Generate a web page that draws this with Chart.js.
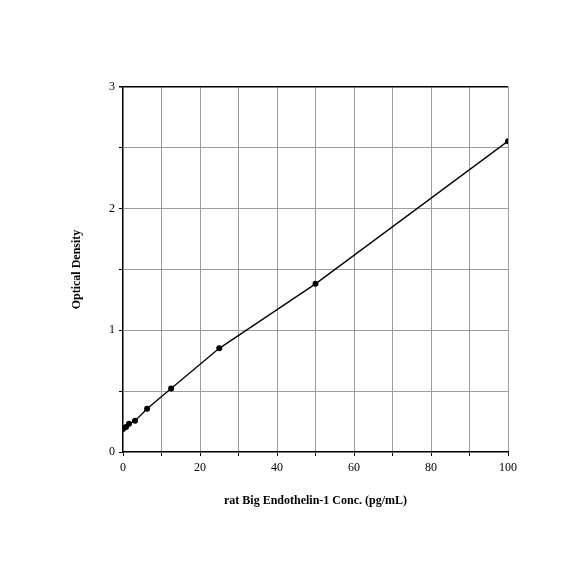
<!DOCTYPE html>
<html>
<head>
<meta charset="utf-8">
<script src="https://cdn.jsdelivr.net/npm/chart.js@4/dist/chart.umd.min.js"></script>
<style>
html,body{margin:0;padding:0;background:#fff;}
#wrap{width:584px;height:584px;}
</style>
</head>
<body>
<div id="wrap"><canvas id="c" width="584" height="584"></canvas></div>
<script>
const concentrations = [0, 0.78, 1.56, 3.125, 6.25, 12.5, 25, 50, 100];
const opticalDensity = [0.19, 0.205, 0.232, 0.256, 0.355, 0.522, 0.852, 1.382, 2.555];
const xTickLabels = [0, 20, 40, 60, 80, 100];
const yTickLabels = [0, 1, 2, 3];
const xTitle = 'rat Big Endothelin-1 Conc. (pg/mL)';
const yTitle = 'Optical Density';

const points = concentrations.map((x, i) => ({x: x, y: opticalDensity[i]}));
const gridGray = '#9c9c9c';
const serif = "'Liberation Serif', 'Times New Roman', serif";

new Chart(document.getElementById('c'), {
  type: 'scatter',
  data: {
    datasets: [{
      data: points,
      showLine: true,
      tension: 0,
      borderColor: '#000',
      borderWidth: 1.3,
      pointRadius: 3,
      pointBackgroundColor: '#000',
      pointBorderColor: '#000',
      pointBorderWidth: 0
    }]
  },
  options: {
    responsive: false,
    animation: false,
    layout: {padding: {left: 60, top: 87, right: 76, bottom: 72}},
    plugins: {legend: {display: false}, tooltip: {enabled: false}},
    scales: {
      x: {
        type: 'linear',
        min: 0, max: 100,
        afterFit: s => { s.height = 60; },
        border: {color: '#000', width: 1.2},
        grid: {
          color: ctx => gridGray,
          lineWidth: 1,
          tickColor: '#000',
          tickLength: 4,
          drawTicks: true
        },
        ticks: {
          stepSize: 10,
          color: '#000',
          padding: 5,
          maxRotation: 0,
          autoSkip: false,
          font: {family: serif, size: 12},
          callback: v => xTickLabels.includes(v) ? String(v) : ''
        },
        title: {
          display: true,
          text: xTitle,
          color: '#000',
          font: {family: serif, size: 12, weight: 'bold'},
          padding: {top: 0, bottom: 4}
        }
      },
      y: {
        type: 'linear',
        min: 0, max: 3,
        afterFit: s => { s.width = 63; },
        border: {color: '#000', width: 1.2},
        grid: {
          color: ctx => (ctx.tick && ctx.tick.value === 3) ? '#000' : gridGray,
          lineWidth: ctx => (ctx.tick && ctx.tick.value === 3) ? 1.5 : 1,
          tickColor: '#000',
          tickLength: 4,
          drawTicks: true
        },
        ticks: {
          stepSize: 0.5,
          color: '#000',
          padding: 4,
          autoSkip: false,
          font: {family: serif, size: 12},
          callback: v => yTickLabels.includes(v) ? String(v) : ''
        },
        title: {
          display: true,
          text: yTitle,
          color: '#000',
          font: {family: serif, size: 12, weight: 'bold'},
          padding: {top: 10, bottom: 0}
        }
      }
    }
  }
});
</script>
</body>
</html>
